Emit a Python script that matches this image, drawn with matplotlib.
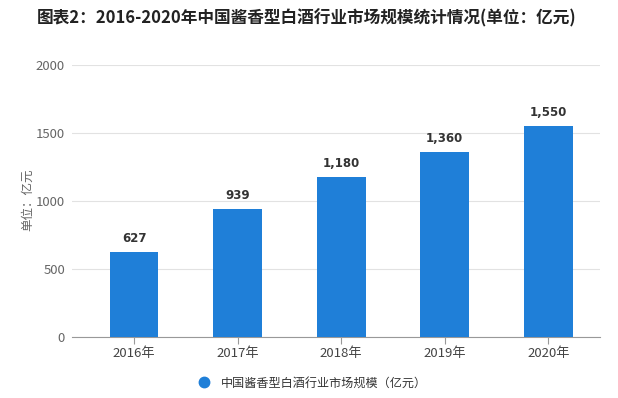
import matplotlib
matplotlib.use("Agg")
import matplotlib.pyplot as plt
from matplotlib.lines import Line2D

plt.rcParams['font.family'] = ['Noto Sans CJK SC', 'DejaVu Sans']

categories = ["2016年", "2017年", "2018年", "2019年", "2020年"]
values = [627, 939, 1180, 1360, 1550]
value_labels = ["627", "939", "1,180", "1,360", "1,550"]
yticks = [0, 500, 1000, 1500, 2000]
title = "图表2：2016-2020年中国酱香型白酒行业市场规模统计情况(单位：亿元)"
series_name = "中国酱香型白酒行业市场规模（亿元）"
ylabel = "单位：亿元"

bar_color = "#1f7fd8"

fig = plt.figure(figsize=(6.18, 3.98), dpi=100)
ax = fig.add_axes([72/618, 1-337/398, (600-72)/618, (337-65)/398])

x = list(range(len(categories)))
ax.bar(x, values, width=0.47, color=bar_color, zorder=3)
for xi, v, lab in zip(x, values, value_labels):
    ax.annotate(lab, (xi, v), xytext=(0, 5), textcoords="offset points",
                ha="center", va="bottom", fontsize=8.5, fontweight="bold",
                color="#333333", family="DejaVu Sans")

ax.set_xlim(-0.6, 4.5)
ax.set_ylim(0, 2000)
ax.set_yticks(yticks)
ax.set_yticklabels([str(t) for t in yticks], fontsize=9.5, color="#666666")
ax.set_xticks(x)
ax.set_xticklabels(categories, fontsize=9.5, color="#444444")
ax.tick_params(axis="y", length=0, pad=5)
ax.tick_params(axis="x", length=5, color="#999999", pad=2)
ax.grid(axis="y", color="#e2e2e2", linewidth=0.8, zorder=0)
for s in ["top", "right", "left"]:
    ax.spines[s].set_visible(False)
ax.spines["bottom"].set_color("#999999")
ax.spines["bottom"].set_linewidth(0.8)

fig.text(28/618, 1-200/398, ylabel, rotation=90, ha="center", va="center",
         fontsize=9, color="#666666")

fig.text(307/618, 1-18/398, title, ha="center", va="center", fontsize=12,
         fontweight="bold", color="#222222")

handle = Line2D([], [], marker="o", linestyle="none", markersize=7.5,
                markerfacecolor=bar_color, markeredgecolor=bar_color)
fig.legend([handle], [series_name], loc="center", bbox_to_anchor=(309/618, 1-383/398),
           frameon=False, fontsize=8.7, handletextpad=0.4, labelcolor="#333333")

fig.savefig("out.png", dpi=100, facecolor="white")
